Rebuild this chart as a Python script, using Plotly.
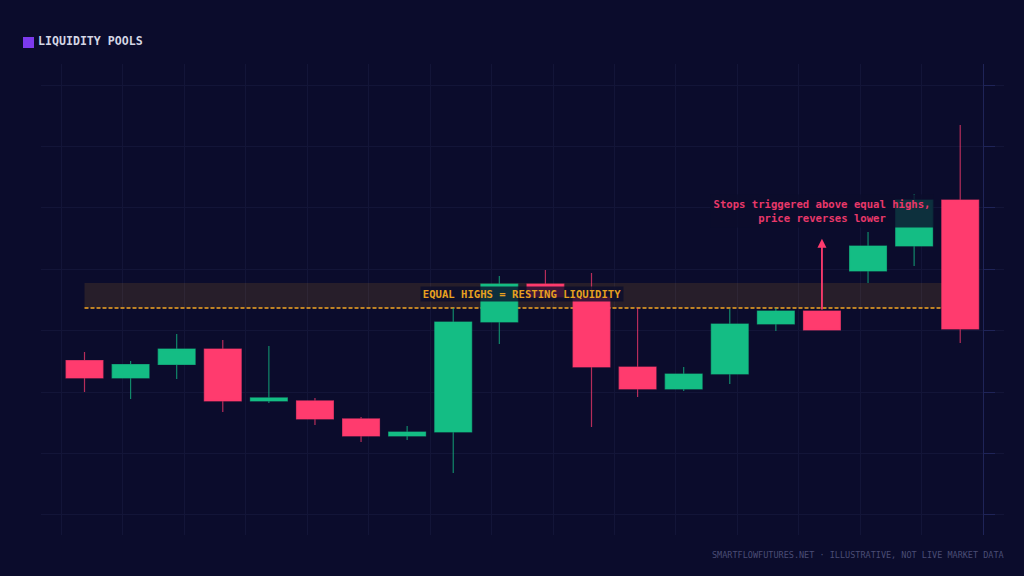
import plotly.graph_objects as go

candle_x = list(range(20))
opens = [125.15, 122.3, 124.5, 127.02, 118.56, 118.56, 115.63, 112.86, 113.51, 131.42,
         137.6, 135.49, 124.09, 120.51, 122.95, 131.09, 133.21, 139.72, 143.79, 151.28]
highs = [126.53, 125.07, 129.46, 128.49, 127.51, 119.05, 115.95, 114.49, 133.7, 138.91,
         139.88, 139.39, 133.7, 124.09, 133.53, 133.7, 133.21, 146.07, 152.25, 163.49]
lows = [120.02, 118.88, 122.14, 116.77, 118.23, 114.65, 111.88, 112.21, 106.84, 127.84,
        135.49, 114.33, 119.21, 120.19, 121.32, 129.95, 130.12, 137.77, 140.53, 128.0]
closes = [122.3, 124.5, 127.02, 118.56, 119.05, 115.63, 112.86, 113.51, 131.42, 137.6,
          135.49, 124.09, 120.51, 122.95, 131.09, 133.21, 130.12, 143.79, 151.28, 130.28]

zone_low = 133.7
zone_high = 137.77
sweep_candle = 16
sweep_top = 144.97

BG = "#0b0c2c"
GREEN = "#14bd84"
RED = "#ff3b6e"
AMBER = "#f5a623"
MONO = "DejaVu Sans Mono"
W, H = 1024, 576
L, R, T, B = 41, 20, 64, 41


def paper_x(px):
    return (px - L) / (W - L - R)


def paper_y(px):
    return 1 - (px - T) / (H - T - B)


fig = go.Figure()

fig.add_trace(go.Candlestick(
    x=candle_x,
    open=opens,
    high=highs,
    low=lows,
    close=closes,
    whiskerwidth=0,
    increasing=dict(fillcolor=GREEN, line=dict(color="rgba(20,189,132,0.7)", width=1.2)),
    decreasing=dict(fillcolor=RED, line=dict(color="rgba(255,59,110,0.7)", width=1.2)),
    hoverinfo="skip",
    showlegend=False,
))

# liquidity zone and equal highs line
fig.add_shape(type="rect", layer="between", x0=0, x1=19, y0=zone_low, y1=zone_high,
              fillcolor="rgba(245,166,35,0.12)", line=dict(width=0))
fig.add_shape(type="line", layer="between", x0=0, x1=19, y0=zone_low, y1=zone_low,
              line=dict(color=AMBER, width=1.3, dash="4px,2px"))

# title square
fig.add_shape(type="rect", xref="paper", yref="paper",
              x0=paper_x(23), x1=paper_x(34), y0=paper_y(48), y1=paper_y(37),
              fillcolor="#7c3aed", line=dict(width=0))

fig.add_annotation(xref="paper", yref="paper", x=paper_x(35.5), y=paper_y(41.5),
                   text="<b>LIQUIDITY POOLS</b>", showarrow=False, xanchor="left", yanchor="middle",
                   font=dict(family=MONO, size=11.6, color="#d4d6e4"))
fig.add_annotation(xref="paper", yref="paper", x=paper_x(1005.5), y=paper_y(555),
                   text="SMARTFLOWFUTURES.NET · ILLUSTRATIVE, NOT LIVE MARKET DATA",
                   showarrow=False, xanchor="right", yanchor="middle",
                   font=dict(family=MONO, size=8.5, color="#4a4c75"))
fig.add_annotation(x=9.5, y=135.95, text="<b>EQUAL HIGHS = RESTING LIQUIDITY</b>",
                   showarrow=False, xanchor="center", yanchor="middle",
                   width=202, height=14, borderpad=0,
                   bgcolor="rgba(11,12,44,0.8)",
                   font=dict(family=MONO, size=10.6, color="#e6a020"))
fig.add_annotation(x=sweep_candle, y=149.55,
                   text="<b>Stops triggered above equal highs,<br>price reverses lower</b>",
                   showarrow=False, xanchor="center", yanchor="middle", align="center",
                   width=222, height=32, borderpad=0,
                   bgcolor="rgba(11,12,44,0.8)",
                   font=dict(family=MONO, size=10.6, color="#e8386a"))
fig.add_annotation(x=sweep_candle, y=sweep_top, ax=sweep_candle, ay=highs[sweep_candle],
                   axref="x", ayref="y", text="", showarrow=True,
                   arrowhead=2, arrowsize=1, arrowwidth=1.8, arrowcolor=RED)

fig.update_layout(
    width=W,
    height=H,
    margin=dict(l=L, r=R, t=T, b=B),
    paper_bgcolor=BG,
    plot_bgcolor=BG,
    boxgap=0.2,
    boxgroupgap=0,
    showlegend=False,
    xaxis=dict(
        range=[-0.944, 19.95],
        tick0=-0.5,
        dtick=4 / 3,
        showticklabels=False,
        ticks="",
        showgrid=True,
        gridcolor="#131538",
        gridwidth=1,
        zeroline=False,
        showline=False,
        rangeslider=dict(visible=False),
    ),
    yaxis=dict(
        range=[96.74, 173.42],
        tick0=100,
        dtick=10,
        side="right",
        anchor="free",
        position=paper_x(983),
        showticklabels=False,
        ticks="outside",
        ticklen=11,
        tickcolor="#1f2458",
        tickwidth=1,
        showgrid=True,
        gridcolor="#131538",
        gridwidth=1,
        zeroline=False,
        showline=True,
        linecolor="#1f2458",
        linewidth=1,
    ),
)

fig.write_html("out.html", config=dict(displayModeBar=False),
               post_script="document.body.style.margin='0';document.body.style.overflow='hidden';")
